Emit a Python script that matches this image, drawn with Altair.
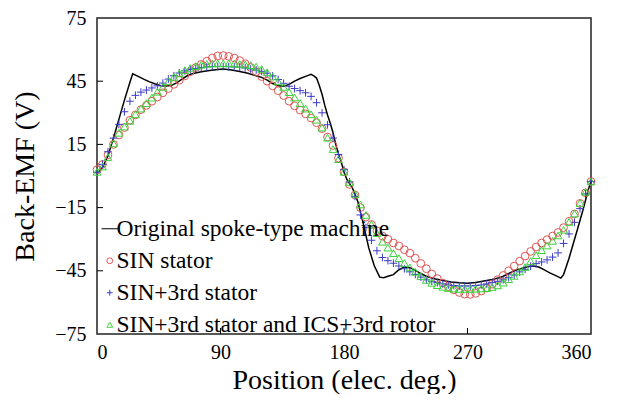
import altair as alt
import pandas as pd

# ---------------- data ----------------
angle = [0, 4, 8, 12, 16, 20, 24, 28, 32, 36, 40, 44, 48, 52, 56, 60, 64, 68, 72, 76,
         80, 84, 88, 92, 96, 100, 104, 108, 112, 116, 120, 124, 128, 132, 136, 140, 144, 148, 152, 156,
         160, 164, 168, 172, 176, 180, 184, 188, 192, 196, 200, 204, 208, 212, 216, 220, 224, 228, 232, 236,
         240, 244, 248, 252, 256, 260, 264, 268, 272, 276, 280, 284, 288, 292, 296, 300, 304, 308, 312, 316,
         320, 324, 328, 332, 336, 340, 344, 348, 352, 356, 360]

sin_stator = [3.0, 5.5, 10.0, 15.0, 19.5, 23.0, 26.5, 29.0, 31.5, 33.5, 35.5, 37.5, 39.5, 41.5, 43.5, 45.5, 47.5, 49.5, 51.5, 53.0,
              54.5, 56.0, 57.0, 57.2, 56.8, 56.0, 54.8, 53.3, 51.5, 49.5, 47.2, 45.0, 42.8, 40.5, 38.2, 35.5, 33.3, 31.3, 29.5, 27.5,
              25.3, 22.5, 18.5, 14.5, 8.5, 2.0, -4.0, -9.0, -15.0, -19.5, -23.0, -26.0, -28.5, -30.0, -31.8, -33.2, -35.0, -36.6, -39.0, -41.5,
              -44.0, -46.5, -48.7, -50.8, -52.5, -54.0, -55.3, -56.1, -56.2, -55.7, -54.6, -53.2, -51.3, -49.2, -47.2, -45.0, -42.8, -40.4, -38.0, -35.8,
              -33.7, -31.8, -30.2, -28.5, -26.8, -24.5, -21.5, -18.0, -13.0, -8.0, -2.6]

sin3_stator = [1.7, 5.5, 11.5, 18.0, 24.5, 30.5, 35.5, 38.3, 39.8, 40.8, 41.8, 42.8, 44.1, 46.0, 47.6, 48.9, 49.9, 50.5, 51.0, 51.5,
               51.8, 52.0, 52.0, 52.0, 51.9, 51.8, 51.7, 51.3, 50.8, 50.3, 49.7, 48.8, 47.5, 45.8, 44.0, 42.6, 41.5, 40.5, 39.5, 37.8,
               34.8, 30.0, 24.3, 18.0, 10.2, 3.0, -2.8, -9.7, -18.5, -24.5, -30.5, -35.5, -38.7, -40.2, -41.4, -42.7, -44.0, -45.5, -46.7, -48.0,
               -49.3, -50.0, -50.6, -51.2, -51.7, -52.0, -52.2, -52.2, -52.2, -52.0, -51.7, -51.2, -50.6, -50.0, -49.3, -48.2, -47.0, -45.5, -44.3, -42.8,
               -41.6, -40.8, -39.8, -38.5, -36.5, -32.0, -27.5, -22.0, -15.5, -8.5, -2.6]

sin3_ics = [2.0, 4.5, 9.0, 15.5, 20.5, 23.5, 26.2, 29.3, 32.0, 34.6, 37.2, 40.0, 42.3, 45.0, 47.0, 48.7, 50.2, 51.3, 52.2, 52.8,
            53.2, 53.4, 53.5, 53.5, 53.5, 53.4, 53.2, 52.9, 52.6, 51.9, 50.8, 49.2, 47.2, 44.9, 42.3, 39.8, 37.3, 34.6, 32.0, 29.3,
            26.7, 23.0, 18.2, 12.8, 8.0, 2.0, -3.0, -8.5, -13.5, -18.5, -23.0, -27.1, -31.2, -34.0, -36.6, -39.0, -41.3, -43.4, -45.5, -47.5,
            -49.3, -50.7, -51.8, -52.6, -53.2, -53.5, -53.6, -53.6, -53.6, -53.5, -53.4, -53.2, -52.7, -51.9, -50.6, -49.0, -47.4, -45.3, -43.2, -40.4,
            -37.6, -35.2, -33.0, -30.8, -28.2, -25.5, -21.8, -17.8, -12.8, -7.5, -2.6]

orig_angle = [0, 4, 8, 12, 16, 20, 24, 26, 30, 34, 38, 42, 46, 50, 54, 58, 62, 66, 70, 76,
              82, 88, 92, 98, 104, 110, 116, 120, 124, 128, 132, 136, 140, 144, 148, 152, 156, 158, 160, 162,
              164, 166, 168, 170, 172, 174, 176, 178, 180, 182, 186, 190, 194, 198, 202, 206, 209, 212, 216, 220,
              224, 228, 232, 236, 240, 246, 252, 258, 264, 270, 276, 282, 288, 294, 298, 302, 306, 310, 314, 318,
              322, 326, 330, 334, 338, 340, 342, 344, 346, 348, 350, 352, 354, 356, 358, 360]
orig_emf = [1.0, 4.0, 9.5, 18.0, 27.0, 36.0, 44.5, 48.5, 47.3, 46.0, 44.8, 43.8, 43.0, 42.7, 43.0, 44.2, 46.0, 47.7, 48.7, 49.5,
            50.1, 50.6, 50.8, 50.3, 49.6, 48.8, 47.6, 46.8, 45.5, 43.9, 42.8, 42.6, 43.5, 45.0, 46.3, 47.3, 48.3, 47.5, 46.5, 43.0,
            38.8, 33.5, 29.0, 25.0, 20.5, 15.0, 10.5, 6.5, 2.0, -1.5, -5.5, -12.0, -22.5, -34.0, -42.5, -48.0, -48.3, -47.6, -46.8, -44.5,
            -43.2, -43.5, -44.8, -46.3, -47.6, -48.8, -49.6, -50.3, -50.7, -50.9, -50.5, -49.8, -49.1, -48.2, -47.0, -45.6, -44.5, -43.8, -43.1, -42.7,
            -43.2, -44.6, -46.0, -47.2, -48.5, -46.8, -43.0, -39.0, -34.5, -30.0, -25.6, -21.0, -16.5, -11.5, -6.5, -2.6]

series_names = ["Original spoke-type machine", "SIN stator", "SIN+3rd stator",
                "SIN+3rd stator and ICS+3rd rotor"]
series_colors = ["#000000", "#e05555", "#3a3ac8", "#3cd23c"]
series_shapes = ["M-2.8,0L2.8,0", "circle", "M-1,0L1,0M0,-1L0,1", "triangle-up"]

x_ticks = [0, 90, 180, 270, 360]
y_ticks = [-75, -45, -15, 15, 45, 75]
x_inner_ticks = [90, 180, 270]
y_inner_ticks = [-45, -15, 15, 45]

# ---------------- tables ----------------
pts = pd.concat([
    pd.DataFrame({"x": angle, "y": sin_stator, "series": series_names[1]}),
    pd.DataFrame({"x": angle, "y": sin3_stator, "series": series_names[2]}),
    pd.DataFrame({"x": angle, "y": sin3_ics, "series": series_names[3]}),
], ignore_index=True)
line_df = pd.DataFrame({"x": orig_angle, "y": orig_emf})
xt_df = pd.DataFrame({"x": x_inner_ticks})
yt_df = pd.DataFrame({"y": y_inner_ticks})

FONT = "Liberation Serif"
W, H = 494, 316
XT = "Position (elec. deg.)"
YT = "Back-EMF (V)"

xscale = alt.Scale(domain=[0, 360], nice=False, zero=False)
yscale = alt.Scale(domain=[-75, 75], nice=False, zero=False)

xaxis = alt.Axis(values=x_ticks, labelPadding=8, titlePadding=4, title=XT)
yaxis = alt.Axis(values=y_ticks, labelPadding=11, titlePadding=15, title=YT)

line = alt.Chart(line_df).mark_line(color="black", strokeWidth=1.5).encode(
    x=alt.X("x:Q", scale=xscale, axis=xaxis, title=XT),
    y=alt.Y("y:Q", scale=yscale, axis=yaxis, title=YT),
)

leg = alt.Legend(orient="none", legendX=1, legendY=199, title=None)
points = alt.Chart(pts).mark_point(filled=False, size=60, strokeWidth=1, opacity=1).encode(
    x=alt.X("x:Q", scale=xscale, axis=xaxis, title=XT),
    y=alt.Y("y:Q", scale=yscale, axis=yaxis, title=YT),
    color=alt.Color("series:N", scale=alt.Scale(domain=series_names, range=series_colors),
                    title=None, legend=leg),
    shape=alt.Shape("series:N", scale=alt.Scale(domain=series_names, range=series_shapes),
                    title=None, legend=leg),
)

xt = alt.Chart(xt_df).mark_rule(color="black", strokeWidth=1).encode(
    x=alt.X("x:Q", scale=xscale, title=XT),
    y=alt.value(H), y2=alt.value(H - 6),
)
yt = alt.Chart(yt_df).mark_rule(color="black", strokeWidth=1).encode(
    y=alt.Y("y:Q", scale=yscale, title=YT),
    x=alt.value(0), x2=alt.value(6),
)

chart = alt.layer(line, points, xt, yt).properties(
    width=W, height=H,
    padding={"left": 89, "top": 10, "right": 14, "bottom": 60},
    autosize=alt.AutoSizeParams(type="none"),
    background="white",
).configure_view(
    stroke="#222222", strokeWidth=1.5
).configure_axis(
    tickSize=0, domain=False, grid=False,
    labelFont=FONT, labelFontSize=20, labelColor="black",
    titleFont=FONT, titleFontSize=28, titleFontWeight="normal", titleColor="black",
).configure_legend(
    labelFont=FONT, labelFontSize=23.5, labelColor="black", labelLimit=500,
    symbolSize=34, symbolStrokeWidth=1, rowPadding=7, labelOffset={"expr": "-5"}, padding=0,
)

chart.save("out.html", embed_options={"renderer": "svg", "actions": False})
